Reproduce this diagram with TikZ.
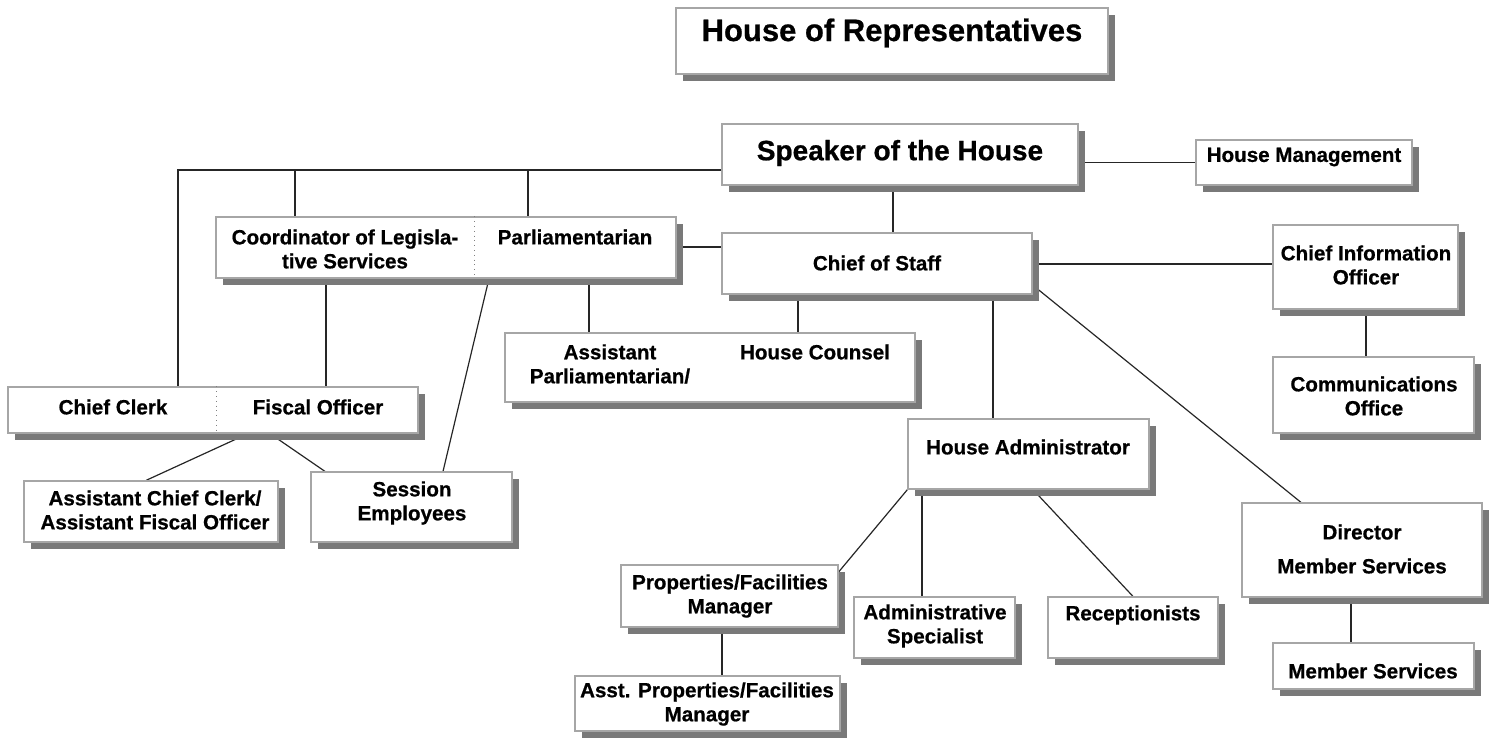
\documentclass[tikz,border=0pt]{standalone}
\usepackage{fontspec}
\setmainfont{Liberation Sans}[BoldFeatures={FakeBold=0.7}]
\usetikzlibrary{shadows,fit,calc}
\pgfdeclarelayer{bg}\pgfsetlayers{bg,main}
\begin{document}
\begin{tikzpicture}[x=0.5pt,y=-0.5pt,
  box/.style={draw=gray!70, line width=0.6pt, fill=white, inner sep=0pt,
    drop shadow={shadow xshift=3.5pt, shadow yshift=-3.5pt, fill=gray!95!black, opacity=1}},
  lbl/.style={font=\bfseries\fontsize{10.3}{12}\selectfont, align=center, inner sep=0pt},
  conn/.style={draw=black!85, line width=0.6pt}]
\useasboundingbox (0,0) rectangle (1494,740);

% boxes
\node[box, fit={(676,8) (1108,74)}] (title) {};
\node[box, fit={(722,124) (1078,185)}] (speaker) {};
\node[box, fit={(1196,140) (1412,185)}] (hm) {};
\node[box, fit={(216,217) (676,278)}] (coord) {};
\node[box, fit={(722,233) (1032,294)}] (cos) {};
\node[box, fit={(1273,225) (1458,309)}] (cio) {};
\node[box, fit={(1273,357) (1474,433)}] (comms) {};
\node[box, fit={(505,333) (915,402)}] (apc) {};
\node[box, fit={(8,387) (418,433)}] (clerk) {};
\node[box, fit={(24,481) (278,542)}] (acc) {};
\node[box, fit={(311,472) (512,542)}] (sess) {};
\node[box, fit={(908,419) (1149,489)}] (ha) {};
\node[box, fit={(1242,503) (1482,597)}] (dir) {};
\node[box, fit={(1273,643) (1474,689)}] (ms) {};
\node[box, fit={(621,565) (838,627)}] (prop) {};
\node[box, fit={(575,676) (840,731)}] (aprop) {};
\node[box, fit={(854,597) (1015,658)}] (aspec) {};
\node[box, fit={(1048,597) (1218,658)}] (recep) {};

% dotted dividers
\draw[dotted, gray] (474,0 |- coord.north) -- (474,0 |- coord.south);
\draw[dotted, gray] (216,0 |- clerk.north) -- (216,0 |- clerk.south);

% labels
\node[lbl, font=\bfseries\fontsize{15.5}{18}\selectfont] (t-title) at (892,33) {House of Representatives};
\node[lbl, font=\bfseries\fontsize{14}{16}\selectfont] (t-speaker) at (900,153) {Speaker of the House};
\node[lbl] (t-hm) at (1304,157) {House Management};
\node[lbl] (t-coord) at (345,249) {Coordinator of Legisla-\\tive Services};
\node[lbl] (t-parl) at (575,237) {Parliamentarian};
\node[lbl] (t-cos) at (877,263) {Chief of Staff};
\node[lbl] (t-cio) at (1366,265) {Chief Information\\Officer};
\node[lbl] (t-comms) at (1374,396) {Communications\\Office};
\node[lbl] (t-apar) at (610,364) {Assistant\\Parliamentarian/};
\node[lbl] (t-counsel) at (815,352) {House Counsel};
\node[lbl] (t-clerk) at (113,407) {Chief Clerk};
\node[lbl] (t-fiscal) at (318,407) {Fiscal Officer};
\node[lbl] (t-acc) at (155,510) {Assistant Chief Clerk/\\Assistant Fiscal Officer};
\node[lbl] (t-sess) at (412,503) {Session\\Employees};
\node[lbl] (t-ha) at (1028,447) {House Administrator};
\node[lbl] (t-dir) at (1362,549) {Director\\[5pt]Member Services};
\node[lbl] (t-ms) at (1373,671) {Member Services};
\node[lbl] (t-prop) at (730,596) {Properties/Facilities\\Manager};
\node[lbl] (t-aspec) at (935,626) {Administrative\\Specialist};
\node[lbl] (t-recep) at (1133,615) {Receptionists};
\node[lbl] (t-aprop) at (707,704) {Asst. Properties/Facilities\\Manager};

% connectors
\coordinate (jL) at (178,170);
\coordinate (j1) at (295,170);
\coordinate (j2) at (528,170);
\begin{pgfonlayer}{bg}
\draw[conn] (speaker.west |- jL) -- (jL) -- (jL |- clerk.north);
\draw[conn] (j1) -- (j1 |- coord.north);
\draw[conn] (j2) -- (j2 |- coord.north);
\draw[conn] (speaker.east |- hm.west) -- (hm.west);
\draw[conn] (893,0 |- speaker.south) -- (893,0 |- cos.north);
\draw[conn] (coord.east |- 0,247) -- (cos.west |- 0,247);
\draw[conn] (cos.east |- 0,264) -- (cio.west |- 0,264);
\draw[conn] (1366,0 |- cio.south) -- (1366,0 |- comms.north);
\draw[conn] (798,0 |- cos.south) -- (798,0 |- apc.north);
\draw[conn] (589,0 |- coord.south) -- (589,0 |- apc.north);
\draw[conn] (489,0 |- coord.south) -- (443,0 |- sess.north);
\draw[conn] (326,0 |- coord.south) -- (326,0 |- clerk.north);
\draw[conn] (248,0 |- clerk.south) -- (146,0 |- acc.north);
\draw[conn] (270,0 |- clerk.south) -- (325,0 |- sess.north);
\draw[conn] (993,0 |- cos.south) -- (993,0 |- ha.north);
\draw[conn] (cos.east |- 0,285) -- (1301,0 |- dir.north);
\draw[conn] (ha.south west) -- (prop.east |- 0,572);
\draw[conn] (922,0 |- ha.south) -- (922,0 |- aspec.north);
\draw[conn] (1033,0 |- ha.south) -- (1133,0 |- recep.north);
\draw[conn] (722,0 |- prop.south) -- (722,0 |- aprop.north);
\draw[conn] (1351,0 |- dir.south) -- (1351,0 |- ms.north);
\end{pgfonlayer}
\end{tikzpicture}
\end{document}
